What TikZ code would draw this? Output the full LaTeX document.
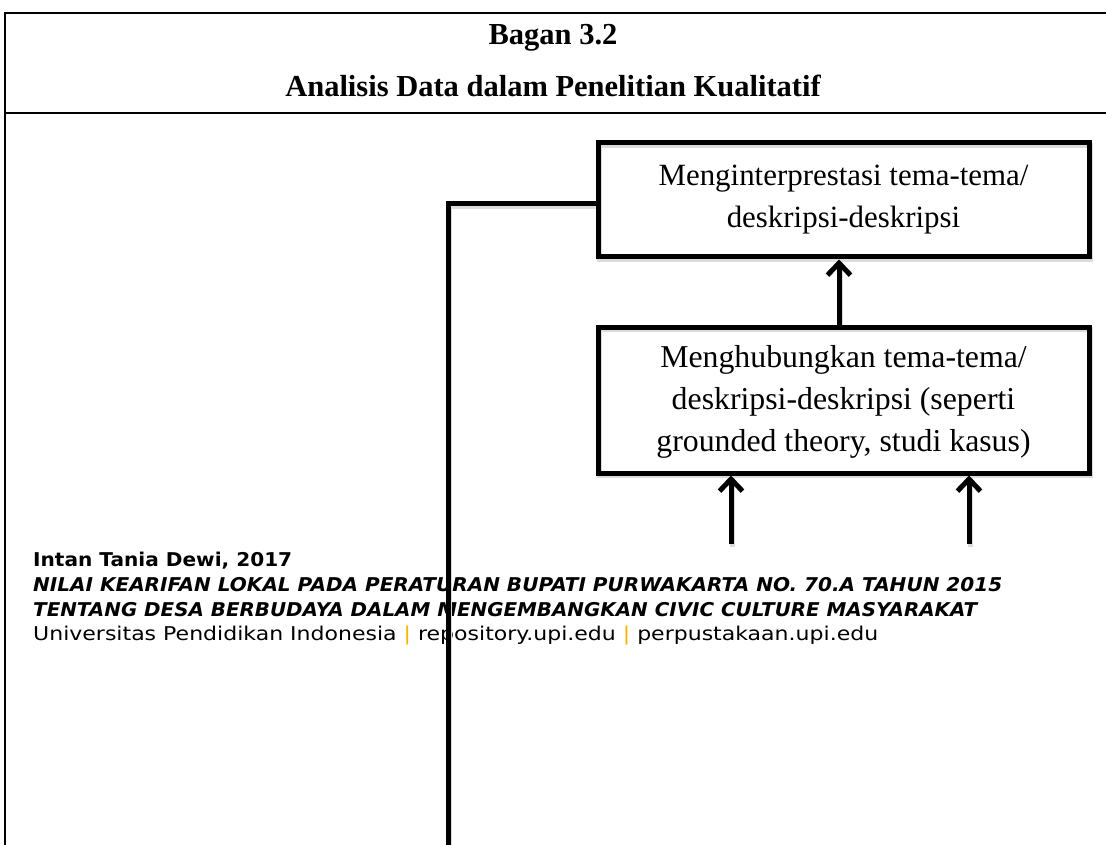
\documentclass[tikz,border=0pt]{standalone}
\usepackage{fontspec}
\usepackage{graphicx}
\setmainfont{Liberation Serif}
\newfontfamily\footfont{DejaVu Sans}
\usetikzlibrary{arrows.meta}
\definecolor{barorange}{RGB}{247,180,0}
% set a line of text so that it runs exactly #1 units wide
\newcommand{\stretchto}[2]{%
  \setbox0\hbox{#2}%
  \pgfmathsetmacro\stretchratio{#1/\wd0}%
  \scalebox{\stretchratio}[1]{\box0}}
\tikzset{
  frameline/.style={line width=2pt, line cap=rect},
  stepbox/.style={align=center, inner sep=0pt, outer sep=0pt,
    font=\fontsize{31.8}{42}\selectfont},
  heavy/.style={line width=5pt},
  uparrow/.style={heavy, shorten >=2.5pt,
    -{Straight Barb[length=12pt, width=23pt, line width=5pt]}},
  shade/.style={draw=black!14, line width=5pt, transform canvas={shift={(1.5,2.5)}}},
  foot/.style={anchor=base west, inner sep=0pt, font=\footfont\fontsize{19}{22}\selectfont},
  title/.style={anchor=base, font=\bfseries\fontsize{30.5}{36}\selectfont}
}
\begin{document}
\begin{tikzpicture}[x=1pt,y=-1pt]
\useasboundingbox (0,0) rectangle (1106,845);

% frame and header
\draw[frameline] (5,850) -- (5,13) -- (1110,13);
\draw[frameline] (5,113) -- (1110,113);
\node[title] (t1) at (553,45) {Bagan 3.2};
\node[title] (t2) at (553,97) {Analisis Data dalam Penelitian Kualitatif};

% footer lines
\node[foot] (f1) at (33,566) {\bfseries\stretchto{259}{Intan Tania Dewi, 2017}};
\node[foot] (f2) at (33,591) {\bfseries\itshape\stretchto{969}{NILAI KEARIFAN LOKAL PADA PERATURAN BUPATI PURWAKARTA NO. 70.A TAHUN 2015}};
\node[foot] (f3) at (33,616) {\bfseries\itshape\stretchto{944}{TENTANG DESA BERBUDAYA DALAM MENGEMBANGKAN CIVIC CULTURE MASYARAKAT}};
\node[foot] (f4) at (33,640) {\stretchto{845}{Universitas Pendidikan Indonesia \textcolor{barorange}{|} repository.upi.edu \textcolor{barorange}{|} perpustakaan.upi.edu}};

% box texts (the frames are drawn below, over their shadows)
\node[stepbox, font=\fontsize{30.9}{42}\selectfont, minimum width=491, minimum height=114] (b1) at (843.5,200)
  {Menginterprestasi tema-tema/\\deskripsi-deskripsi};
\node[stepbox, minimum width=491, minimum height=146] (b2) at (843.5,400)
  {\rule{0pt}{26pt}Menghubungkan tema-tema/\\deskripsi-deskripsi (seperti\\grounded theory, studi kasus)};

\coordinate (ax) at (839,0);
\coordinate (fy) at (0,204);
\coordinate (in1) at (731,544);
\coordinate (in2) at (969,544);
\coordinate (fb) at (448,850);

% soft shadows
\path[shade] (b1.south west) rectangle (b1.north east);
\path[shade] (b2.south west) rectangle (b2.north east);
\path[shade] (b1.west |- fy) -| (fb);
\path[shade] (b2.north -| ax) -- (b1.south -| ax);
\path[shade] (in1) -- (b2.south -| in1);
\path[shade] (in2) -- (b2.south -| in2);

% box frames
\draw[heavy] (b1.south west) rectangle (b1.north east);
\draw[heavy] (b2.south west) rectangle (b2.north east);

% connectors
\draw[heavy] (b1.west |- fy) -| (fb);
\draw[uparrow, shorten <=2.5pt] (b2.north -| ax) -- (b1.south -| ax);
\draw[uparrow] (in1) -- (b2.south -| in1);
\draw[uparrow] (in2) -- (b2.south -| in2);
\end{tikzpicture}
\end{document}
